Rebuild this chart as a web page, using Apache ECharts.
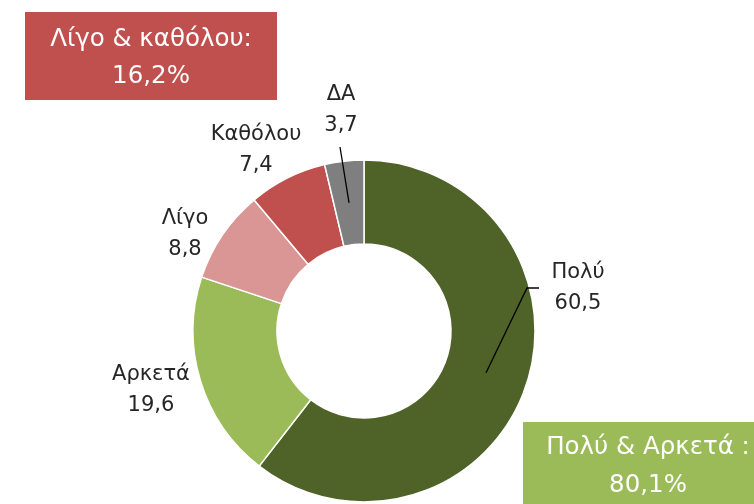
<!DOCTYPE html>
<html>
<head>
<meta charset="utf-8">
<script src="https://cdn.jsdelivr.net/npm/echarts@6/dist/echarts.min.js"></script>
<style>
    html, body { margin: 0; padding: 0; background: #fff; }
    #chart { width: 754px; height: 504px; }
</style>
</head>
<body>
<div id="chart"></div>
<script>
const categories = ['Πολύ', 'Αρκετά', 'Λίγο', 'Καθόλου', 'ΔΑ']
const values = [60.5, 19.6, 8.8, 7.4, 3.7]
const valueLabels = ['60,5', '19,6', '8,8', '7,4', '3,7']
const colors = ['#4F6228', '#9BBB59', '#D99694', '#C0504D', '#7F7F7F']

// label placement (text centre) and leader line end points
const labelAt = [[578, 288], [151, 390], [185, 234], [256, 150], [341, 110]]
const leaderEnd = [[[527, 288], [539, 288]], null, null, null, [[340, 147]]]

const summaryTop = 'Λίγο & καθόλου:\n16,2%'
const summaryBottom = 'Πολύ & Αρκετά :\n80,1%'

const center = [364, 331]
const radius = [87, 171]
const FONT = '"DejaVu Sans", Verdana, sans-serif'

const chart = echarts.init(document.getElementById('chart'))

const pieData = (withColor) => categories.map((name, i) => ({
    name: name,
    value: values[i],
    itemStyle: { color: withColor ? colors[i] : 'rgba(0,0,0,0)' },
    labelLine: { show: !!leaderEnd[i] }
}))

chart.setOption({
    animation: false,
    series: [
        {
            // the ring itself
            type: 'pie',
            center: center,
            radius: radius,
            startAngle: 90,
            itemStyle: { borderColor: '#fff', borderWidth: 1.5 },
            label: { show: false },
            labelLine: { show: false },
            emphasis: { disabled: true },
            silent: true,
            data: pieData(true)
        },
        {
            // transparent copy on top that carries labels and leader lines
            type: 'pie',
            center: center,
            radius: radius,
            startAngle: 90,
            z: 5,
            silent: true,
            itemStyle: { borderWidth: 0 },
            label: {
                show: true,
                position: 'outside',
                formatter: p => p.name + '\n' + valueLabels[p.dataIndex],
                color: '#262626',
                fontSize: 21,
                lineHeight: 31,
                fontFamily: FONT
            },
            labelLine: { show: true, lineStyle: { color: '#000', width: 1.3 } },
            labelLayout: params => {
                const i = params.dataIndex
                const res = { x: labelAt[i][0], y: labelAt[i][1], align: 'center', verticalAlign: 'middle' }
                if (leaderEnd[i] && params.labelLinePoints) {
                    const outer = params.labelLinePoints[0]
                    const k = (radius[0] + radius[1]) / 2 / radius[1]
                    const start = [center[0] + (outer[0] - center[0]) * k, center[1] + (outer[1] - center[1]) * k]
                    res.labelLinePoints = [start].concat(leaderEnd[i])
                }
                return res
            },
            emphasis: { disabled: true },
            data: pieData(false)
        }
    ],
    graphic: [
        {
            type: 'group',
            left: 25, top: 12,
            children: [
                { type: 'rect', shape: { x: 0, y: 0, width: 252, height: 88 }, style: { fill: '#C0504D' } },
                { type: 'text', x: 126, y: 46, style: { text: summaryTop, fill: '#fff', font: '24.5px ' + FONT, align: 'center', verticalAlign: 'middle', lineHeight: 37 } }
            ]
        },
        {
            type: 'group',
            left: 523, top: 422,
            children: [
                { type: 'rect', shape: { x: 0, y: 0, width: 231, height: 82 }, style: { fill: '#9BBB59' } },
                { type: 'text', x: 125, y: 45, style: { text: summaryBottom, fill: '#fff', font: '24.5px ' + FONT, align: 'center', verticalAlign: 'middle', lineHeight: 38 } }
            ]
        }
    ]
})
</script>
</body>
</html>
